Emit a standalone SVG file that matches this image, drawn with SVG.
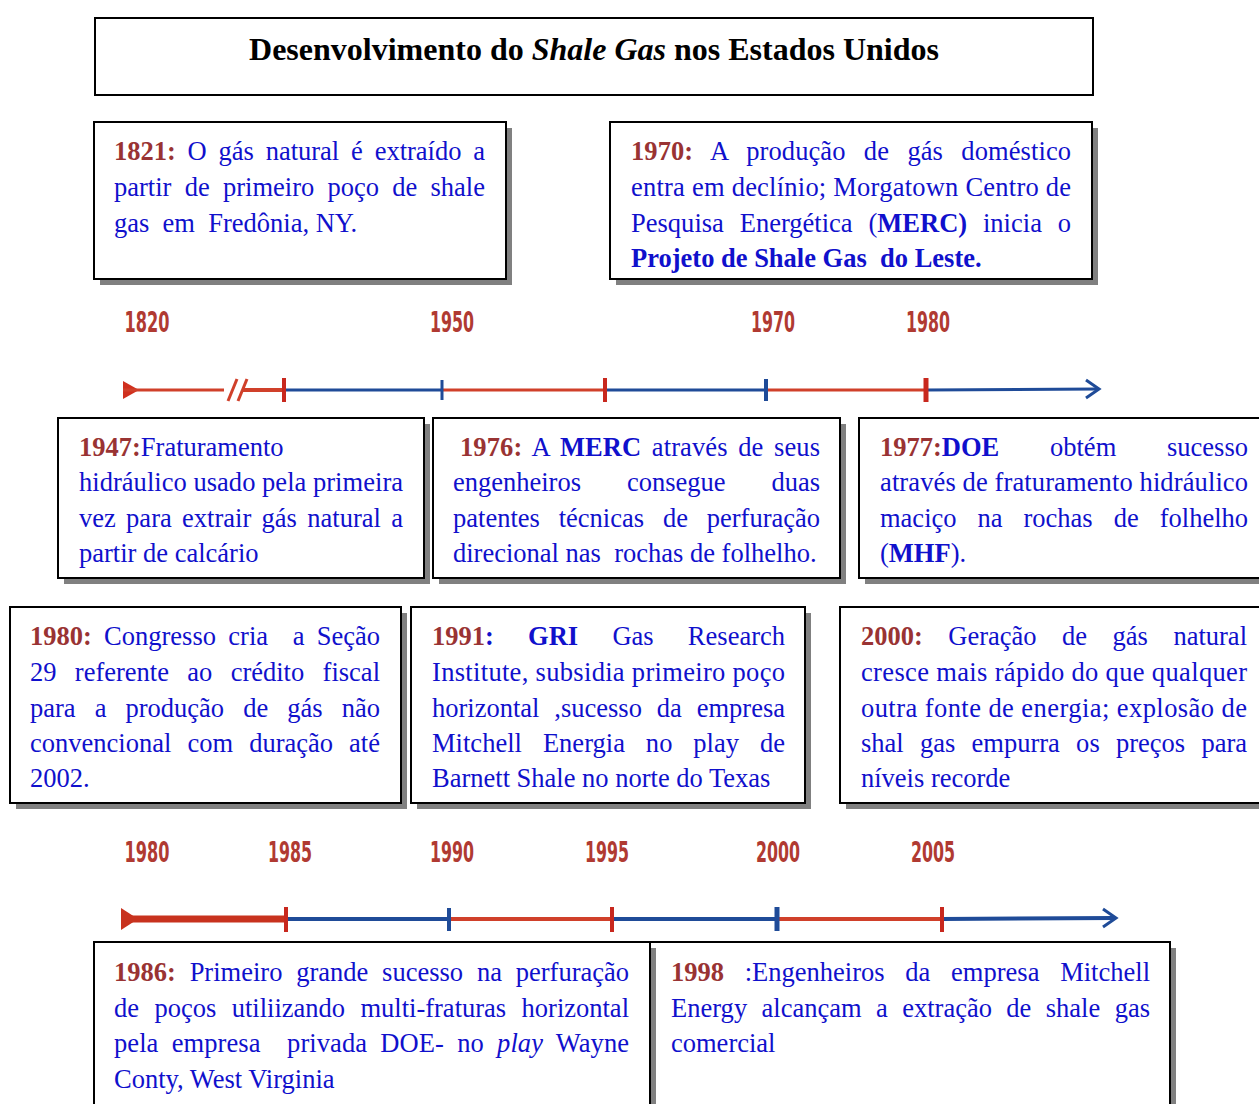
<svg xmlns="http://www.w3.org/2000/svg" width="1259" height="1104" viewBox="0 0 1259 1104">
<style>
.t{font-family:"Liberation Serif","Times New Roman",serif;font-size:26.5px;fill:#1010cc}
.y{font-weight:bold;fill:#993333}
.b{font-weight:bold}
.title{font-family:"Liberation Serif","Times New Roman",serif;font-size:32px;font-weight:bold;fill:#000}
.lab{font-family:"Liberation Sans Narrow","DejaVu Sans Condensed",sans-serif;font-weight:bold;font-size:28px;fill:#b03a32}
.box{fill:#fff;stroke:#000;stroke-width:2}
.sh{fill:#808080}
.red{stroke:#d0402a;fill:none}
.blue{stroke:#1f4b98;fill:none}
.rt{stroke:#c8281e}
.bt{stroke:#1f4b98}
</style>
<rect width="1259" height="1104" fill="#fff"/>

<g id="title">
<rect class="box" x="95" y="18" width="998" height="77"/>
<text class="title" x="594" y="60" text-anchor="middle">Desenvolvimento do <tspan font-style="italic">Shale Gas</tspan> nos Estados Unidos</text>
</g>

<g id="connectors">
<g id="timeline1">
<text class="lab" x="147" y="332" text-anchor="middle" textLength="45" lengthAdjust="spacingAndGlyphs">1820</text>
<text class="lab" x="452" y="332" text-anchor="middle" textLength="44" lengthAdjust="spacingAndGlyphs">1950</text>
<text class="lab" x="773" y="332" text-anchor="middle" textLength="44" lengthAdjust="spacingAndGlyphs">1970</text>
<text class="lab" x="928" y="332" text-anchor="middle" textLength="44" lengthAdjust="spacingAndGlyphs">1980</text>
<polygon points="123,381 139,390 123,399" fill="#d0301e"/>
<line class="red" x1="123" y1="390" x2="224" y2="390" stroke-width="3"/>
<line class="red" x1="228" y1="401" x2="237" y2="379" stroke-width="3"/>
<line class="red" x1="238" y1="401" x2="247" y2="379" stroke-width="3"/>
<line class="red" x1="242" y1="390" x2="285" y2="390" stroke-width="4"/>
<line class="blue" x1="285" y1="390" x2="442" y2="390" stroke-width="3"/>
<line class="red" x1="442" y1="390" x2="605" y2="390" stroke-width="3"/>
<line class="blue" x1="605" y1="390" x2="766" y2="390" stroke-width="3"/>
<line class="red" x1="766" y1="390" x2="926" y2="390" stroke-width="3"/>
<line class="blue" x1="926" y1="390" x2="1098" y2="389" stroke-width="3"/>
<polyline class="blue" points="1086,380 1099,389 1086,398" stroke-width="3"/>
<line class="rt" x1="284" y1="378" x2="284" y2="402" stroke-width="4"/>
<line class="bt" x1="442" y1="380" x2="442" y2="400" stroke-width="3"/>
<line class="rt" x1="605" y1="378" x2="605" y2="402" stroke-width="4"/>
<line class="bt" x1="766" y1="379" x2="766" y2="401" stroke-width="4"/>
<line class="rt" x1="926" y1="378" x2="926" y2="402" stroke-width="5"/>
</g>
<g id="timeline2">
<text class="lab" x="147" y="862" text-anchor="middle" textLength="45" lengthAdjust="spacingAndGlyphs">1980</text>
<text class="lab" x="290" y="862" text-anchor="middle" textLength="44" lengthAdjust="spacingAndGlyphs">1985</text>
<text class="lab" x="452" y="862" text-anchor="middle" textLength="44" lengthAdjust="spacingAndGlyphs">1990</text>
<text class="lab" x="607" y="862" text-anchor="middle" textLength="44" lengthAdjust="spacingAndGlyphs">1995</text>
<text class="lab" x="778" y="862" text-anchor="middle" textLength="44" lengthAdjust="spacingAndGlyphs">2000</text>
<text class="lab" x="933" y="862" text-anchor="middle" textLength="44" lengthAdjust="spacingAndGlyphs">2005</text>
<polygon points="121,908 138,919 121,930" fill="#c8321e"/>
<line x1="121" y1="919" x2="286" y2="919" stroke="#c8321e" stroke-width="7"/>
<line class="blue" x1="286" y1="919" x2="449" y2="919" stroke-width="4"/>
<line class="red" x1="449" y1="919" x2="612" y2="919" stroke-width="4"/>
<line class="blue" x1="612" y1="919" x2="777" y2="919" stroke-width="4"/>
<line class="red" x1="777" y1="919" x2="942" y2="919" stroke-width="4"/>
<line class="blue" x1="942" y1="919" x2="1115" y2="918" stroke-width="4"/>
<polyline class="blue" points="1103,909 1116,918 1103,927" stroke-width="3"/>
<line class="rt" x1="286" y1="907" x2="286" y2="932" stroke-width="4"/>
<line class="bt" x1="449" y1="908" x2="449" y2="931" stroke-width="4"/>
<line class="rt" x1="612" y1="907" x2="612" y2="932" stroke-width="4"/>
<line class="bt" x1="777" y1="907" x2="777" y2="931" stroke-width="5"/>
<line class="rt" x1="942" y1="907" x2="942" y2="932" stroke-width="4"/>
</g>
</g>

<g id="n1821">
<rect class="sh" x="100" y="128" width="412" height="157"/>
<rect class="box" x="94" y="122" width="412" height="157"/>
<text class="t" x="114" y="160" textLength="371" lengthAdjust="spacing" word-spacing="5.2"><tspan class="y">1821:</tspan> O gás natural é extraído a</text>
<text class="t" x="114" y="196" textLength="371" lengthAdjust="spacing" word-spacing="6.6">partir de primeiro poço de shale</text>
<text class="t" x="114" y="231.5" xml:space="preserve">gas  em  Fredônia, NY.</text>
</g>

<g id="n1970">
<rect class="sh" x="616" y="128" width="482" height="157"/>
<rect class="box" x="610" y="122" width="482" height="157"/>
<text class="t" x="631" y="160" textLength="440" lengthAdjust="spacing" word-spacing="11.6"><tspan class="y">1970:</tspan> A produção de gás doméstico</text>
<text class="t" x="631" y="196" textLength="440" lengthAdjust="spacing">entra em declínio; Morgatown Centro de</text>
<text class="t" x="631" y="231.5" textLength="440" lengthAdjust="spacing" word-spacing="9.2">Pesquisa Energética (<tspan class="b">MERC)</tspan> inicia o</text>
<text class="t b" x="631" y="267" xml:space="preserve">Projeto de Shale Gas  do Leste.</text>
</g>

<g id="n1947">
<rect class="sh" x="64" y="424" width="366" height="160"/>
<rect class="box" x="58" y="418" width="366" height="160"/>
<text class="t" x="79" y="455.5"><tspan class="y">1947:</tspan>Fraturamento</text>
<text class="t" x="79" y="491" textLength="324" lengthAdjust="spacing">hidráulico usado pela primeira</text>
<text class="t" x="79" y="527" textLength="324" lengthAdjust="spacing" word-spacing="3.7">vez para extrair gás natural a</text>
<text class="t" x="79" y="562">partir de calcário</text>
</g>

<g id="n1976">
<rect class="sh" x="439" y="424" width="407" height="160"/>
<rect class="box" x="433" y="418" width="407" height="160"/>
<text class="t" x="460" y="455.5" textLength="360" lengthAdjust="spacing" word-spacing="3.9"><tspan class="y">1976:</tspan> A <tspan class="b">MERC</tspan> através de seus</text>
<text class="t" x="453" y="491" textLength="367" lengthAdjust="spacing" word-spacing="39.3">engenheiros consegue duas</text>
<text class="t" x="453" y="527" textLength="367" lengthAdjust="spacing" word-spacing="12.2">patentes técnicas de perfuração</text>
<text class="t" x="453" y="562" xml:space="preserve">direcional nas  rochas de folhelho.</text>
</g>

<g id="n1977">
<rect class="sh" x="865" y="424" width="420" height="160"/>
<rect class="box" x="859" y="418" width="420" height="160"/>
<text class="t" x="880" y="455.5" textLength="368" lengthAdjust="spacing" word-spacing="44.1"><tspan class="y">1977:</tspan><tspan class="b">DOE</tspan> obtém sucesso</text>
<text class="t" x="880" y="491" textLength="368" lengthAdjust="spacing">através de fraturamento hidráulico</text>
<text class="t" x="880" y="527" textLength="368" lengthAdjust="spacing" word-spacing="14.4">maciço na rochas de folhelho</text>
<text class="t" x="880" y="562">(<tspan class="b">MHF</tspan>).</text>
</g>

<g id="n1980">
<rect class="sh" x="16" y="613" width="391" height="196"/>
<rect class="box" x="10" y="607" width="391" height="196"/>
<text class="t" x="30" y="645" textLength="350" lengthAdjust="spacing" word-spacing="5.7" xml:space="preserve"><tspan class="y">1980:</tspan> Congresso cria  a Seção</text>
<text class="t" x="30" y="681" textLength="350" lengthAdjust="spacing" word-spacing="11.7">29 referente ao crédito fiscal</text>
<text class="t" x="30" y="716.5" textLength="350" lengthAdjust="spacing" word-spacing="12.5">para a produção de gás não</text>
<text class="t" x="30" y="752" textLength="350" lengthAdjust="spacing" word-spacing="9.5">convencional com duração até</text>
<text class="t" x="30" y="787">2002.</text>
</g>

<g id="n1991">
<rect class="sh" x="417" y="613" width="394" height="196"/>
<rect class="box" x="411" y="607" width="394" height="196"/>
<text class="t" x="432" y="645" textLength="353" lengthAdjust="spacing" word-spacing="27.6"><tspan class="y">1991</tspan><tspan class="b">:</tspan> <tspan class="b">GRI</tspan> Gas Research</text>
<text class="t" x="432" y="681" textLength="353" lengthAdjust="spacing">Institute, subsidia primeiro poço</text>
<text class="t" x="432" y="716.5" textLength="353" lengthAdjust="spacing" word-spacing="8.3">horizontal ,sucesso da empresa</text>
<text class="t" x="432" y="752" textLength="353" lengthAdjust="spacing" word-spacing="14.3">Mitchell Energia no play de</text>
<text class="t" x="432" y="787">Barnett Shale no norte do Texas</text>
</g>

<g id="n2000">
<rect class="sh" x="846" y="613" width="440" height="196"/>
<rect class="box" x="840" y="607" width="440" height="196"/>
<text class="t" x="861" y="645" textLength="386" lengthAdjust="spacing" word-spacing="18.9"><tspan class="y">2000:</tspan> Geração de gás natural</text>
<text class="t" x="861" y="681" textLength="386" lengthAdjust="spacing">cresce mais rápido do que qualquer</text>
<text class="t" x="861" y="716.5" textLength="386" lengthAdjust="spacing">outra fonte de energia; explosão de</text>
<text class="t" x="861" y="752" textLength="386" lengthAdjust="spacing" word-spacing="9.6">shal gas empurra os preços para</text>
<text class="t" x="861" y="787">níveis recorde</text>
</g>

<g id="n1998">
<rect class="sh" x="656" y="948" width="520" height="180"/>
<rect class="box" x="650" y="942" width="520" height="180"/>
<text class="t" x="671" y="981" textLength="479" lengthAdjust="spacing" word-spacing="14.1"><tspan class="y">1998</tspan> :Engenheiros da empresa Mitchell</text>
<text class="t" x="671" y="1016.5" textLength="479" lengthAdjust="spacing" word-spacing="7.7">Energy alcançam a extração de shale gas</text>
<text class="t" x="671" y="1052">comercial</text>
</g>

<g id="n1986">
<rect class="sh" x="100" y="948" width="556" height="180"/>
<rect class="box" x="94" y="942" width="556" height="180"/>
<text class="t" x="114" y="981" textLength="515" lengthAdjust="spacing" word-spacing="7.2"><tspan class="y">1986:</tspan> Primeiro grande sucesso na perfuração</text>
<text class="t" x="114" y="1016.5" textLength="515" lengthAdjust="spacing" word-spacing="8.8">de poços utiliizando multi-fraturas horizontal</text>
<text class="t" x="114" y="1052" textLength="515" lengthAdjust="spacing" word-spacing="6.6" xml:space="preserve">pela empresa  privada DOE- no <tspan font-style="italic">play</tspan> Wayne</text>
<text class="t" x="114" y="1087.5">Conty, West Virginia</text>
</g>
</svg>
